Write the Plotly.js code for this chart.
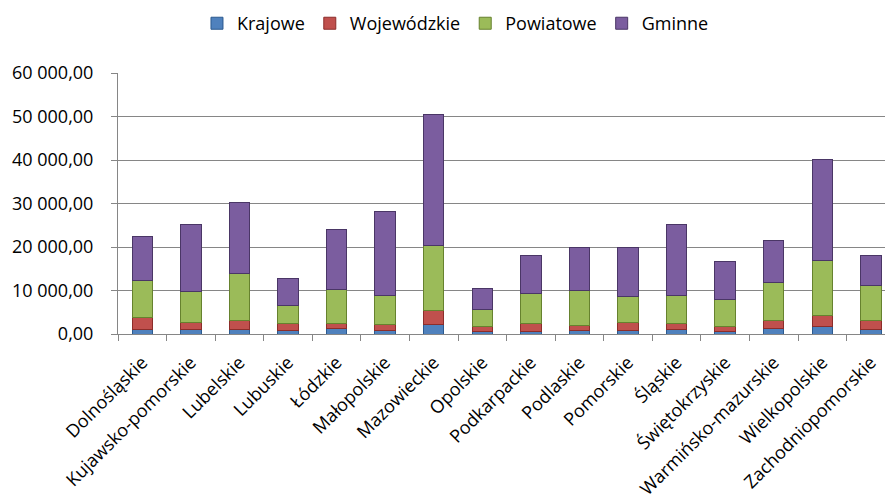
<!DOCTYPE html>
<html>
<head>
<meta charset="utf-8">
<script src="https://cdn.plot.ly/plotly-3.0.1.min.js"></script>
<style>
  html, body { margin: 0; padding: 0; overflow: hidden; background: #fff; }
  #chart { width: 885px; height: 504px; }
</style>
</head>
<body>
<div id="chart"></div>
<script>
// Voivodeships (regions)
const regions = [
  "Dolnośląskie", "Kujawsko-pomorskie", "Lubelskie", "Lubuskie", "Łódzkie",
  "Małopolskie", "Mazowieckie", "Opolskie", "Podkarpackie", "Podlaskie",
  "Pomorskie", "Śląskie", "Świętokrzyskie", "Warmińsko-mazurskie",
  "Wielkopolskie", "Zachodniopomorskie"
];

// Values per road category
const krajowe = [1150, 1000, 1000, 770, 1220, 770, 2140, 690, 690, 770, 920, 1000, 540, 1220, 1680, 1070];
const wojewodzkie = [2600, 1600, 2060, 1600, 1150, 1380, 3220, 990, 1680, 1300, 1680, 1450, 1140, 1840, 2520, 1990];
const powiatowe = [8650, 7120, 10790, 4130, 7960, 6810, 15070, 3900, 6890, 7880, 5970, 6350, 6200, 8720, 12630, 8030];
const gminne = [10100, 15450, 16450, 6280, 13690, 19200, 30060, 4900, 8790, 10020, 11400, 16370, 8800, 9720, 23260, 6960];

const seriesNames = ["Krajowe", "Wojewódzkie", "Powiatowe", "Gminne"];
const fills = ["#4f81bd", "#c0504d", "#9bbb59", "#7b5d9f"];
const edges = ["#2c5a8f", "#8c2d2a", "#66822e", "#4a3666"];
const seriesValues = [krajowe, wojewodzkie, powiatowe, gminne];

const traces = seriesValues.map((vals, i) => ({
  type: "bar",
  name: seriesNames[i],
  x: regions,
  y: vals,
  marker: { color: fills[i], line: { color: edges[i], width: 1 } },
  hoverinfo: "x+y+name"
}));

const font = "'Open Sans', 'Noto Sans', sans-serif";

const layout = {
  width: 885,
  height: 504,
  barmode: "stack",
  bargap: 0.58,
  separators: ", ",
  paper_bgcolor: "#ffffff",
  plot_bgcolor: "#ffffff",
  font: { family: font, size: 18, color: "#000000" },
  margin: { l: 118, r: 0, t: 73, b: 170, autoexpand: false },
  showlegend: true,
  legend: {
    orientation: "h",
    x: 0.44, xanchor: "center",
    y: 0.99, yref: "container", yanchor: "top",
    font: { family: font, size: 18, color: "#000" },
    itemwidth: 30,
    traceorder: "normal",
    itemclick: false
  },
  xaxis: {
    type: "category",
    range: [-0.5, 15.29],
    tickangle: -45,
    ticks: "outside",
    tickson: "boundaries",
    ticklen: 6,
    tickcolor: "#868686",
    ticklabelstandoff: 10,
    showline: true,
    linecolor: "#868686",
    linewidth: 1,
    showgrid: false,
    automargin: false,
    tickfont: { family: font, size: 18 }
  },
  yaxis: {
    range: [0, 60000],
    tickvals: [0, 10000, 20000, 30000, 40000, 50000, 60000],
    tickformat: ",.2f",
    ticks: "outside",
    ticklen: 6,
    tickcolor: "#868686",
    ticklabelstandoff: 14,
    showline: true,
    linecolor: "#868686",
    linewidth: 1,
    showgrid: true,
    gridcolor: "#868686",
    gridwidth: 1,
    zeroline: false,
    automargin: false,
    tickfont: { family: font, size: 18 }
  }
};

Plotly.newPlot("chart", traces, layout, { displayModeBar: false, staticPlot: true });
</script>
</body>
</html>
